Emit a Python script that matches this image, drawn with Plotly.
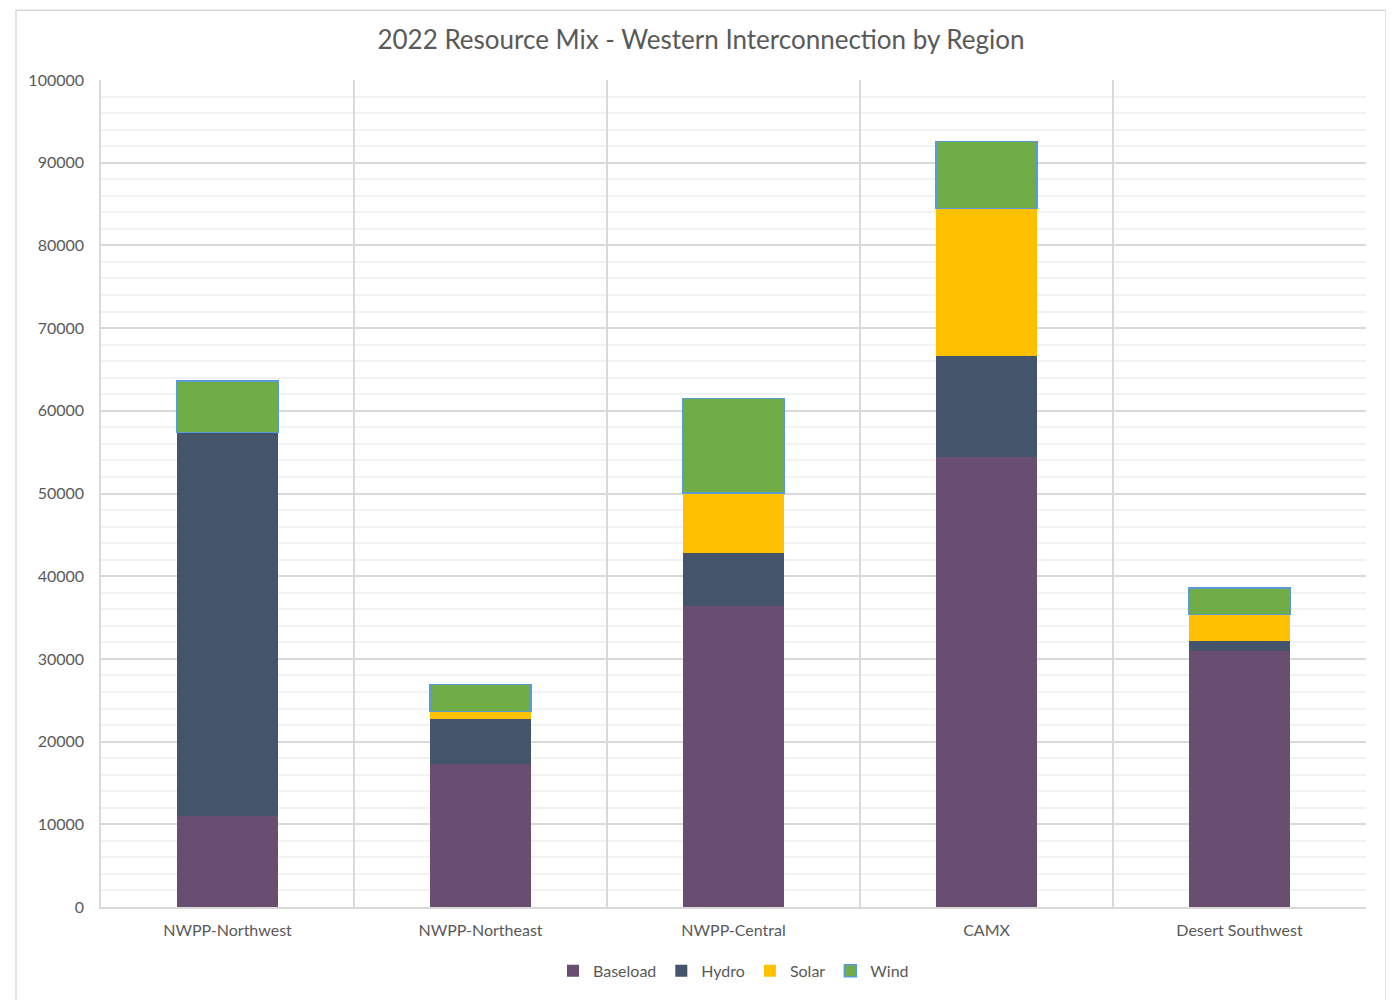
import plotly.graph_objects as go

regions = ["NWPP-Northwest", "NWPP-Northeast", "NWPP-Central", "CAMX", "Desert Southwest"]
baseload = [11000, 17250, 36400, 54400, 30900]
hydro = [46400, 5450, 6400, 12200, 1300]
solar = [0, 950, 7250, 17850, 3150]
wind = [6200, 3250, 11450, 8100, 3250]

series = [
    ("Baseload", baseload, "#684E71", None),
    ("Hydro", hydro, "#44546A", None),
    ("Solar", solar, "#FFC000", None),
    ("Wind", wind, "#70AD47", "#5B9BD5"),
]

fig = go.Figure()
for name, vals, color, lc in series:
    fig.add_trace(go.Bar(
        name=name, x=regions, y=vals,
        marker=dict(color=color,
                    line=dict(color=lc if lc else color, width=1.5 if lc else 0)),
    ))

off = 8  # page body margin
W, H = 1394 - off, 1000 - off
l, t = 101 - off, 80 - off
r = W - (1366 - off)
b = H - (911 - off)
pw, ph = W - l - r, H - t - b

fig.update_layout(
    barmode="stack",
    bargap=0.6,
    width=W, height=H,
    margin=dict(l=l, r=r, t=t, b=b),
    paper_bgcolor="white",
    plot_bgcolor="white",
    font=dict(family="Lato, Open Sans, sans-serif", color="#595959", size=16),
    title=dict(text="2022 Resource Mix - Western Interconnection by Region",
               x=0.5, xanchor="center", y=1 - (40 - off) / H, yanchor="middle",
               font=dict(size=26, color="#595959")),
    legend=dict(orientation="h", x=0.5, xanchor="center",
                y=-(968 - off - 10 - (H - b)) / ph, yanchor="top",
                font=dict(size=16, color="#595959"), traceorder="normal"),
    xaxis=dict(type="category", tickson="boundaries", showgrid=True,
               gridcolor="#D9D9D9", gridwidth=1.5, ticks="", showline=True,
               linecolor="#D9D9D9", linewidth=1.5, mirror=False,
               ticklabelstandoff=8,
               tickfont=dict(size=16, color="#595959")),
    yaxis=dict(range=[0, 100000], dtick=10000, showgrid=True, gridcolor="#D9D9D9",
               gridwidth=1.5, zeroline=False, showline=True, linecolor="#D9D9D9",
               linewidth=1.5, ticks="", tickformat="d", ticklabelstandoff=12,
               minor=dict(dtick=2000, showgrid=True, gridcolor="#F2F2F2", gridwidth=1.5),
               tickfont=dict(size=16, color="#595959")),
    shapes=[dict(type="rect", xref="paper", yref="paper",
                 x0=(16 - 101) / pw, x1=(1386 - 101) / pw,
                 y0=(911 - 1010) / ph, y1=(911 - 10) / ph,
                 line=dict(color="#D9D9D9", width=1.5), fillcolor="rgba(0,0,0,0)",
                 layer="below")],
)

fig.write_html("out.html")
